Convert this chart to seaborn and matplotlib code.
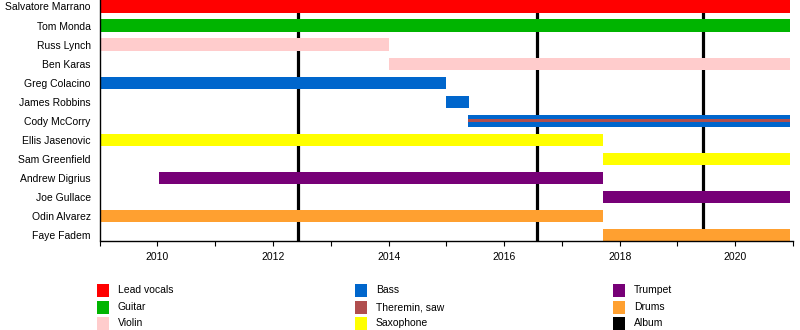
import matplotlib
matplotlib.use("Agg")
import matplotlib.pyplot as plt
from matplotlib.patches import Rectangle
import seaborn as sns
import pandas as pd

members = ["Salvatore Marrano", "Tom Monda", "Russ Lynch", "Ben Karas", "Greg Colacino",
           "James Robbins", "Cody McCorry", "Ellis Jasenovic", "Sam Greenfield",
           "Andrew Digrius", "Joe Gullace", "Odin Alvarez", "Faye Fadem"]
start = [2009.0, 2009.0, 2009.03, 2014.0, 2009.0, 2015.0, 2015.37, 2009.0, 2017.71,
         2010.03, 2017.71, 2009.0, 2017.71]
end = [2020.95, 2020.95, 2014.0, 2020.95, 2015.0, 2015.4, 2020.95, 2017.71, 2020.95,
       2017.71, 2020.95, 2017.71, 2020.95]
roles = ["Lead vocals", "Guitar", "Violin", "Violin", "Bass", "Bass", "Bass",
         "Saxophone", "Saxophone", "Trumpet", "Trumpet", "Drums", "Drums"]

# secondary role stripe
second_member = ["Cody McCorry"]
second_role = ["Theremin, saw"]
second_start = [2015.37]
second_end = [2020.95]

albums = [2012.43, 2016.57, 2019.44]

legend_labels = ["Lead vocals", "Guitar", "Violin", "Bass", "Theremin, saw",
                 "Saxophone", "Trumpet", "Drums", "Album"]
legend_colors = ["#FF0000", "#00B400", "#FFCCCC", "#0066CC", "#B04E4E",
                 "#FFFF00", "#770077", "#FFA030", "#000000"]
palette = dict(zip(legend_labels, legend_colors))

df = pd.DataFrame({"member": members, "start": start, "end": end, "role": roles})

sns.set_theme(style="white")
plt.rcParams["font.family"] = ["Liberation Sans", "DejaVu Sans"]
plt.rcParams["text.color"] = "black"
plt.rcParams["xtick.color"] = "black"
plt.rcParams["ytick.color"] = "black"

fig = plt.figure(figsize=(8, 3.3), dpi=100)
ax = fig.add_axes([99.7 / 800, 89.5 / 330, (793 - 99.7) / 800, 240.5 / 330])

ypos = {m: i for i, m in enumerate(members)}

for a in albums:
    ax.axvline(a, color="black", lw=2.3, zorder=1)

ax.barh([ypos[m] for m in df["member"]], df["end"] - df["start"], left=df["start"],
        height=0.64, color=[palette[r] for r in df["role"]], linewidth=0, zorder=2)
ax.barh([ypos[m] for m in second_member],
        [e - s for s, e in zip(second_start, second_end)], left=second_start,
        height=0.17, color=[palette[r] for r in second_role], linewidth=0, zorder=3)

ax.set_xlim(2009, 2021)
ax.set_ylim(12.29, -0.34)
ax.set_yticks(range(len(members)))
ax.set_yticklabels(members, fontsize=7.5)
ax.set_xticks([2010, 2012, 2014, 2016, 2018, 2020])
ax.set_xticks(range(2009, 2022), minor=True)
ax.tick_params(axis="x", which="both", bottom=True, length=3.5, width=0.8,
               color="black", labelsize=7.5, pad=5, labelcolor="black")
ax.tick_params(axis="y", left=False, length=0, pad=6.5, labelsize=7.5, labelcolor="black")
sns.despine(ax=ax, top=True, right=True)
for s in ["left", "bottom"]:
    ax.spines[s].set_color("black")
    ax.spines[s].set_linewidth(1.0)
ax.grid(False)

# legend
col_x = [97, 355, 613]
row_y = [290, 307, 323]
for i, (lab, col) in enumerate(zip(legend_labels, legend_colors)):
    c, r = divmod(i, 3)
    x = col_x[c]
    y = row_y[r]
    fig.patches.append(Rectangle((x / 800, (330 - y - 6.5) / 330), 11.5 / 800, 13 / 330,
                                 transform=fig.transFigure, facecolor=col, linewidth=0,
                                 figure=fig))
    fig.text((x + 21) / 800, (330 - y) / 330, lab, fontsize=7.5, va="center", ha="left",
             color="black")

fig.savefig("out.png", dpi=100)
